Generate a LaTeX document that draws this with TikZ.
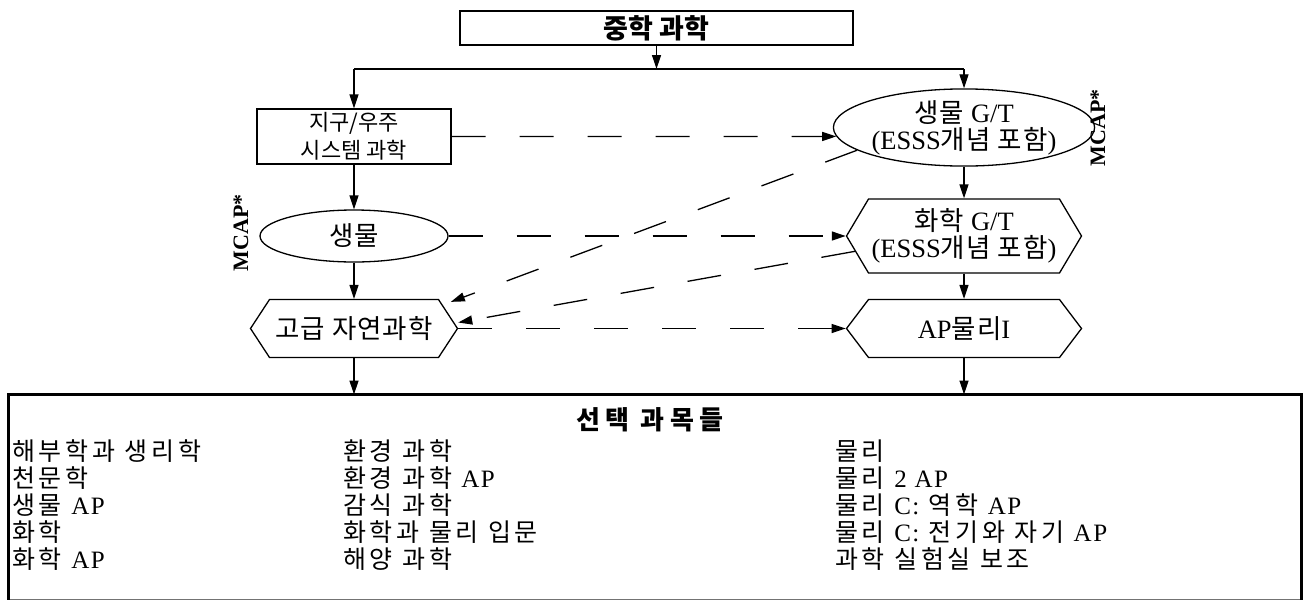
\documentclass[tikz,border=0pt]{standalone}
\usepackage{fontspec}
\setmainfont{Noto Sans CJK KR}[LetterSpace=4]
\newfontfamily\la{Liberation Serif}
\newfontfamily\krbox{Noto Sans CJK KR}[LetterSpace=15]
\newfontfamily\krtitle{Noto Sans CJK KR}[LetterSpace=20]
\newfontfamily\labox{Liberation Serif}[LetterSpace=6]
\newfontfamily\krtop{Noto Sans CJK KR}
\newcommand\lt[1]{{\la #1}}
\newcommand\lb[1]{{\labox #1}}
\usetikzlibrary{arrows.meta,shapes.geometric,shapes.symbols}
\tikzset{
  base/.style={draw, line width=1.3pt, inner sep=0pt, align=center,
    font=\fontsize{26.5}{27}\selectfont},
  boxn/.style={base, rectangle},
  ell/.style={base, ellipse},
  hex/.style={base, signal, signal to=east and west},
  conn/.style={line width=1.3pt},
  arr/.style={conn, -{Triangle[length=14pt,width=9pt]}},
  darr/.style={arr, dash pattern=on 34pt off 34pt},
  mcap/.style={rotate=90, inner sep=0pt, font=\la\bfseries\fontsize{22}{24}\selectfont},
  coltext/.style={anchor=base west, align=left, inner sep=0pt,
    font=\krbox\fontsize{25}{27.1}\selectfont},
}
\begin{document}
\begin{tikzpicture}[x=1pt,y=-1pt]
\useasboundingbox (0,0) rectangle (1303,600);
% nodes
\node[boxn, minimum width=393pt, minimum height=34pt,
  font=\krtop\bfseries\fontsize{27}{28}\selectfont] (top) at (656.5,28) {중학 과학};
\node[boxn, minimum width=194pt, minimum height=55pt,
  font=\krtop\fontsize{22}{28}\selectfont] (earth) at (354,136.5)
  {지구/우주\\시스템 과학};
\node[ell, minimum width=239pt, minimum height=71pt] (gt) at (964,127.5)
  {생물 \lt{G/T}\\\lt{(ESSS}개념 포함\lt{)}};
\node[ell, minimum width=188pt, minimum height=52pt] (bio) at (354,236) {생물};
\node[hex, minimum width=207pt, minimum height=58pt, signal pointer angle=113.5]
  (adv) at (354,328.5) {고급 자연과학};
\node[hex, minimum width=235pt, minimum height=74pt, signal pointer angle=118.5]
  (chem) at (964,236) {화학 \lt{G/T}\\\lt{(ESSS}개념 포함\lt{)}};
\node[hex, minimum width=235pt, minimum height=58pt, signal pointer angle=105.6]
  (ap) at (964,328.5) {\lt{AP}물리\lt{I}};
\node[mcap] (mcapl) at (241,233) {MCAP*};
\node[mcap] (mcapr) at (1098,128) {MCAP*};
% elective box
\node[draw=black!55, line width=1pt, minimum width=1292pt, minimum height=204pt,
  inner sep=0pt] (sel) at (655,497) {};
\draw[line width=3pt] (sel.south west) -- (sel.north west) -- (sel.north east) -- (sel.south east);
\node[inner sep=0pt, font=\krtitle\bfseries\fontsize{26}{28}\selectfont] (seltitle) at (650,420) {선택 과목들};
\node[coltext] (col1) at (12,568.5)
  {해부학과 생리학\\천문학\\생물 \lb{AP}\\화학\\화학 \lb{AP}};
\node[coltext] (col2) at (343,568.5)
  {환경 과학\\환경 과학 \lb{AP}\\감식 과학\\화학과 물리 입문\\해양 과학};
\node[coltext] (col3) at (835,568.5)
  {물리\\물리 \lb{2 AP}\\물리 \lb{C:} 역학 \lb{AP}\\물리 \lb{C:} 전기와 자기 \lb{AP}\\과학 실험실 보조};
% connectors
\coordinate (jl) at (354,69);
\coordinate (jr) at (964,69);
\draw[conn] (jl) -- (jr);
\draw[arr] (top.south) -- (top.south |- jl);
\draw[arr] (jl) -- (earth.north);
\draw[arr] (jr) -- (gt.north);
\draw[arr] (earth.south) -- (bio.north);
\draw[arr] (bio.south) -- (adv.north);
\draw[arr] (adv.south) -- (adv.south |- sel.north);
\draw[arr] (gt.south) -- (chem.north);
\draw[arr] (chem.south) -- (ap.north);
\draw[arr] (ap.south) -- (ap.south |- sel.north);
\draw[darr] (earth.east) -- (gt.184.5);
\draw[darr] (bio.east) -- (chem.west);
\draw[darr] (adv.east) -- (ap.west);
\draw[darr] (gt.192) -- ([xshift=12pt,yshift=-3pt]adv.north east);
\draw[darr] (chem.188.4) -- ([yshift=6pt]adv.east);
\end{tikzpicture}
\end{document}
